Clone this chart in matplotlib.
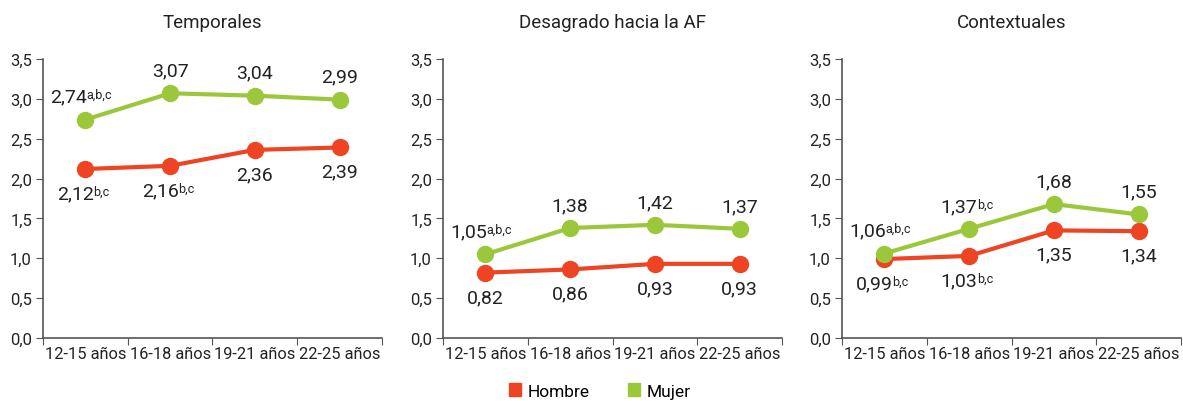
import matplotlib.pyplot as plt
from matplotlib.patches import Patch

plt.rcParams['font.family'] = ['Roboto', 'DejaVu Sans']

# --- DATOS ---
grupos = ['12-15 años', '16-18 años', '19-21 años', '22-25 años']
titulos = ['Temporales', 'Desagrado hacia la AF', 'Contextuales']

hombre = [
    [2.12, 2.16, 2.36, 2.39],
    [0.82, 0.86, 0.93, 0.93],
    [0.99, 1.03, 1.35, 1.34],
]
mujer = [
    [2.74, 3.07, 3.04, 2.99],
    [1.05, 1.38, 1.42, 1.37],
    [1.06, 1.37, 1.68, 1.55],
]
# superíndices de significación
sup_hombre = [
    ['b,c', 'b,c', '', ''],
    ['', '', '', ''],
    ['b,c', 'b,c', '', ''],
]
sup_mujer = [
    ['a,b,c', '', '', ''],
    ['a,b,c', '', '', ''],
    ['a,b,c', 'b,c', '', ''],
]
# -----------------

ROJO = '#EE4423'
VERDE = '#9BC83B'
TXT = '#222222'

fig = plt.figure(figsize=(11.83, 4.02), dpi=100)
lefts = [43 / 1183, 443 / 1183, 842 / 1183]
w = 339 / 1183
bottom = (402 - 339) / 402
h = (339 - 60) / 402


def etiqueta(ax, x, y, val, sup, dy):
    txt = f'{val:.2f}'.replace('.', ',')
    # desplazar a la izquierda si hay superíndice, para centrar el conjunto
    dx = -len(sup) * 2.4 if sup else 0
    t = ax.annotate(txt, (x, y), xytext=(dx, dy), textcoords='offset points',
                    ha='center', va='center', fontsize=14, color=TXT)
    if sup:
        ax.annotate(sup, xy=(1, 0.97), xycoords=t, xytext=(-0.3, 0),
                    textcoords='offset points', ha='left', va='top',
                    fontsize=9, color=TXT)


for i in range(3):
    ax = fig.add_axes([lefts[i], bottom, w, h])
    x = range(len(grupos))
    ax.plot(x, hombre[i], color=ROJO, lw=3, marker='o', ms=11.5, zorder=3)
    ax.plot(x, mujer[i], color=VERDE, lw=3, marker='o', ms=11.5, zorder=4)

    for j in x:
        etiqueta(ax, j, mujer[i][j], mujer[i][j], sup_mujer[i][j], 16.5)
        etiqueta(ax, j, hombre[i][j], hombre[i][j], sup_hombre[i][j], -17.5)

    ax.set_xlim(-0.5, 3.5)
    ax.set_ylim(0, 3.5)
    ax.set_xticks([-0.5, 0.5, 1.5, 2.5, 3.5])
    ax.set_xticklabels([])
    ax.set_xticks(list(x), minor=True)
    ax.set_xticklabels(grupos, minor=True, fontsize=11.8, color=TXT)
    ax.tick_params(axis='x', which='minor', length=0, pad=6)
    ax.tick_params(axis='x', which='major', length=5, color='#555555')
    yt = [k * 0.5 for k in range(8)]
    ax.set_yticks(yt)
    ax.set_yticklabels([f'{v:.1f}'.replace('.', ',') for v in yt],
                       fontsize=12, color=TXT)
    ax.tick_params(axis='y', length=5, color='#555555', pad=3)
    for s in ['top', 'right']:
        ax.spines[s].set_visible(False)
    for s in ['left', 'bottom']:
        ax.spines[s].set_color('#555555')
        ax.spines[s].set_linewidth(1.2)
    ax.set_title(titulos[i], fontsize=13.5, color=TXT, pad=23)

handles = [Patch(color=ROJO, label='Hombre'), Patch(color=VERDE, label='Mujer')]
fig.legend(handles=handles, loc='center', bbox_to_anchor=(0.507, 0.025),
           ncol=2, frameon=False, fontsize=12.5, handlelength=0.7,
           handleheight=0.7, handletextpad=0.4, columnspacing=2.2)

fig.savefig('out.png', dpi=100)
